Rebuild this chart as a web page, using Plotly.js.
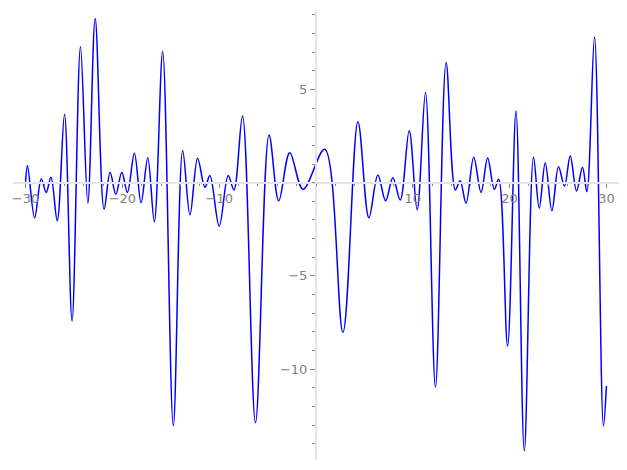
<!DOCTYPE html>
<html>
<head>
<meta charset="utf-8">
<script src="https://cdn.plot.ly/plotly-3.0.1.min.js"></script>
<style>html,body{margin:0;padding:0;background:#fff}#chart{width:627px;height:470px}</style>
</head>
<body>
<div id="chart"></div>
<script>
// local extrema of the curve
const xValues = [-30, -29.8, -29.07, -28.38, -27.87, -27.38, -26.73, -25.98, -25.2, -24.33,
  -23.57, -22.81, -21.89, -21.27, -20.68, -20.06, -19.48, -18.76, -18.07, -17.38,
  -16.7, -15.84, -14.74, -13.77, -13.02, -12.23, -11.47, -10.96, -10.0, -9.07,
  -8.48, -7.59, -6.25, -4.85, -3.85, -2.71, -1.34, 0.9, 2.78, 4.33,
  5.46, 6.39, 7.19, 7.94, 8.7, 9.63, 10.45, 11.31, 12.34, 13.44,
  14.4, 14.89, 15.5, 16.29, 17.05, 17.73, 18.42, 18.87, 19.79, 20.66,
  21.52, 22.47, 23.06, 23.68, 24.37, 25.05, 25.67, 26.26, 26.91, 27.53,
  27.98, 28.77, 29.69, 30];
const yValues = [0.05, 0.91, -1.88, 0.2, -0.52, 0.29, -2.04, 3.67, -7.42, 7.29,
  -1.1, 8.81, -1.43, 0.56, -0.62, 0.56, -0.52, 1.58, -1.07, 1.34,
  -2.09, 7.03, -13.03, 1.72, -1.73, 1.31, -0.25, 0.38, -2.32, 0.38,
  -0.39, 3.58, -12.87, 2.56, -0.97, 1.61, -0.35, 1.79, -8.02, 3.27,
  -1.88, 0.41, -0.97, 0.27, -0.93, 2.79, -1.46, 4.83, -10.97, 6.45,
  -0.39, 0.11, -1.1, 1.36, -0.52, 1.32, -0.35, 0.18, -8.76, 3.84,
  -14.39, 1.36, -1.37, 1.07, -1.5, 0.86, -0.18, 1.45, -0.45, 0.83,
  -0.48, 7.8, -13.05, -10.9];
const xTickVals = [-30, -20, -10, 10, 20, 30];
const xTickText = ['\u221230', '\u221220', '\u221210', '10', '20', '30'];
const yTickVals = [-10, -5, 5];
const yTickText = ['\u221210', '\u22125', '5'];

const xRange = [-31.3, 31.3];
const yRange = [-14.87, 9.26];

const trace = {
  x: xValues, y: yValues, type: 'scatter', mode: 'lines',
  line: {color: '#0000ff', width: 1.5, shape: 'spline', smoothing: 1},
  hoverinfo: 'skip'
};
const tickFont = {family: 'DejaVu Sans', size: 13, color: '#808080'};
const layout = {
  width: 627, height: 470,
  margin: {l: 13, r: 8, t: 10, b: 10, pad: 0},
  paper_bgcolor: '#ffffff', plot_bgcolor: '#ffffff',
  showlegend: false,
  xaxis: {
    range: xRange, anchor: 'free', position: (0 - yRange[0]) / (yRange[1] - yRange[0]),
    showgrid: false, zeroline: false,
    showline: true, linecolor: '#e6e6e6', linewidth: 2,
    tickmode: 'array', tickvals: xTickVals, ticktext: xTickText,
    ticks: 'outside', ticklen: 4, tickwidth: 1, tickcolor: '#888888',
    minor: {dtick: 2, tick0: 0, ticks: 'outside', ticklen: 2, tickwidth: 1, tickcolor: '#888888', showgrid: false},
    tickfont: tickFont
  },
  yaxis: {
    range: yRange, anchor: 'free', position: (0 - xRange[0]) / (xRange[1] - xRange[0]),
    showgrid: false, zeroline: false,
    showline: true, linecolor: '#e6e6e6', linewidth: 2,
    tickmode: 'array', tickvals: yTickVals, ticktext: yTickText,
    ticks: 'outside', ticklen: 5, tickwidth: 1, tickcolor: '#888888',
    minor: {dtick: 1, tick0: 0, ticks: 'outside', ticklen: 3, tickwidth: 1, tickcolor: '#888888', showgrid: false},
    tickfont: tickFont
  }
};
Plotly.newPlot('chart', [trace], layout, {displayModeBar: false, staticPlot: true});
</script>
</body>
</html>
